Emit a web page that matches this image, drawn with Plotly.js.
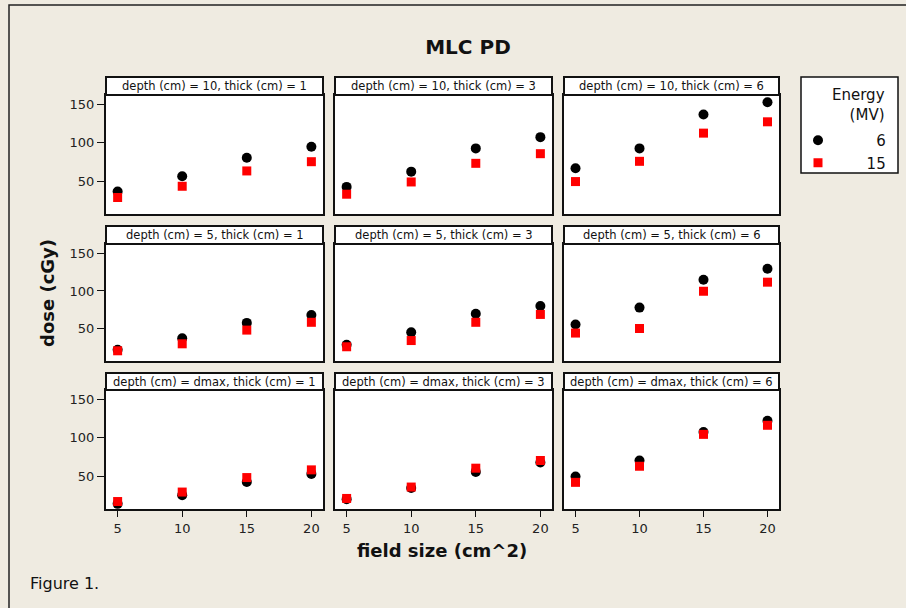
<!DOCTYPE html>
<html>
<head>
<meta charset="utf-8">
<script src="https://cdn.plot.ly/plotly-3.0.1.min.js"></script>
<style>html,body{margin:0;padding:0;background:#EFEBE1;}#chart{width:906px;height:608px;}</style>
</head>
<body>
<div id="chart"></div>
<script>
// ---- data ----
const fieldSize = [5, 10, 15, 20];
const xTicks = [5, 10, 15, 20];
const yTicks = [50, 100, 150];
const depthLabels = ['10', '5', 'dmax'];
const thickLabels = [1, 3, 6];
const energyNames = ['6', '15'];
const legendTitle = 'Energy<br>(MV)';

const dose6_d10_t1 = [36.6, 56.5, 80.6, 94.8];
const dose15_d10_t1 = [28.9, 43.5, 63.4, 75.4];
const dose6_d10_t3 = [42.7, 62.5, 92.7, 107.3];
const dose15_d10_t3 = [33.2, 49.1, 73.3, 85.8];
const dose6_d10_t6 = [66.8, 92.7, 136.6, 152.6];
const dose15_d10_t6 = [49.6, 75.9, 112.5, 127.2];

const dose6_d5_t1 = [22.4, 37.5, 57.8, 68.1];
const dose15_d5_t1 = [21.0, 30.2, 48.3, 58.6];
const dose6_d5_t3 = [28.9, 45.3, 69.8, 80.2];
const dose15_d5_t3 = [26.3, 34.5, 58.6, 69.0];
const dose6_d5_t6 = [55.6, 78.0, 114.7, 129.3];
const dose15_d5_t6 = [44.4, 50.4, 99.6, 111.6];

const dose6_dmax_t1 = [14.2, 25.5, 42.6, 53.1];
const dose15_dmax_t1 = [17.2, 29.5, 48.3, 58.3];
const dose6_dmax_t3 = [20.3, 34.7, 55.7, 67.9];
const dose15_dmax_t3 = [21.2, 36.0, 60.5, 70.5];
const dose6_dmax_t6 = [49.6, 70.5, 107.4, 122.1];
const dose15_dmax_t6 = [42.1, 63.0, 104.4, 116.2];

const panels6 = [
  [dose6_d10_t1, dose6_d10_t3, dose6_d10_t6],
  [dose6_d5_t1, dose6_d5_t3, dose6_d5_t6],
  [dose6_dmax_t1, dose6_dmax_t3, dose6_dmax_t6]
];
const panels15 = [
  [dose15_d10_t1, dose15_d10_t3, dose15_d10_t6],
  [dose15_d5_t1, dose15_d5_t3, dose15_d5_t6],
  [dose15_dmax_t1, dose15_dmax_t3, dose15_dmax_t6]
];

// ---- layout geometry (pixels) ----
const W = 906, H = 608;
const FONT = 'DejaVu Sans';
const colPx = [[106, 323], [335, 552], [564, 779]];
const rowPlotPx = [[95, 214], [244, 361], [390, 509]];
const rowStripPx = [[77, 95], [226, 244], [373, 390]];
const fx = p => p / W;
const fy = p => 1 - p / H;
const NB = '\u00a0';
// right-align legend labels by padding (digit width = 2 nbsp in DejaVu Sans)
const padName = s => NB.repeat(Math.max(0, 10 - 2 * s.length)) + s;

const traces = [];
const layout = {
  width: W, height: H,
  margin: {l: 0, r: 0, t: 0, b: 0},
  paper_bgcolor: '#EFEBE1',
  plot_bgcolor: '#FFFFFF',
  font: {family: FONT, color: '#111'},
  title: {text: '<b>MLC PD</b>', x: fx(468), y: fy(47), xanchor: 'center', yanchor: 'middle',
          font: {family: FONT, size: 20, color: '#111'}},
  showlegend: true,
  legend: {
    x: fx(798), y: fy(124), xanchor: 'left', yanchor: 'top',
    bgcolor: 'rgba(0,0,0,0)', borderwidth: 0,
    font: {family: FONT, size: 15, color: '#111'},
    tracegroupgap: 0
  },
  shapes: [],
  annotations: []
};

for (let r = 0; r < 3; r++) {
  for (let c = 0; c < 3; c++) {
    const k = r * 3 + c + 1;
    const xa = 'xaxis' + (k === 1 ? '' : k);
    const ya = 'yaxis' + (k === 1 ? '' : k);
    const xr = 'x' + (k === 1 ? '' : k);
    const yr = 'y' + (k === 1 ? '' : k);
    layout[xa] = {
      domain: [fx(colPx[c][0]), fx(colPx[c][1])],
      anchor: yr, range: [4.1, 20.9],
      tickvals: xTicks, ticktext: xTicks.map(String),
      showgrid: false, zeroline: false,
      showline: true, linecolor: '#111', linewidth: 2, mirror: true,
      ticks: r === 2 ? 'outside' : '', ticklen: 6, tickcolor: '#111',
      showticklabels: r === 2,
      tickfont: {family: FONT, size: 13, color: '#222'},
      fixedrange: true
    };
    layout[ya] = {
      domain: [fy(rowPlotPx[r][1]), fy(rowPlotPx[r][0])],
      anchor: xr, range: [7.5, 162],
      tickvals: yTicks, ticktext: yTicks.map(String),
      showgrid: false, zeroline: false,
      showline: true, linecolor: '#111', linewidth: 2, mirror: true,
      ticks: c === 0 ? 'outside' : '', ticklen: 7, tickcolor: '#111',
      showticklabels: c === 0,
      tickfont: {family: FONT, size: 13, color: '#222'},
      fixedrange: true
    };
    traces.push({
      type: 'scatter', mode: 'markers', x: fieldSize, y: panels6[r][c],
      xaxis: xr, yaxis: yr, name: padName(energyNames[0]), legendgroup: 'e6', showlegend: k === 1,
      marker: {symbol: 'circle', size: 10, color: '#000000'}
    });
    traces.push({
      type: 'scatter', mode: 'markers', x: fieldSize, y: panels15[r][c],
      xaxis: xr, yaxis: yr, name: padName(energyNames[1]), legendgroup: 'e15', showlegend: k === 1,
      marker: {symbol: 'square', size: 9, color: '#FF0000'}
    });
    // strip
    layout.shapes.push({
      type: 'rect', xref: 'paper', yref: 'paper',
      x0: fx(colPx[c][0]), x1: fx(colPx[c][1]),
      y0: fy(rowStripPx[r][1]), y1: fy(rowStripPx[r][0]),
      fillcolor: '#FFFFFF', line: {color: '#111', width: 2}
    });
    layout.annotations.push({
      xref: 'paper', yref: 'paper',
      x: fx((colPx[c][0] + colPx[c][1]) / 2), y: fy((rowStripPx[r][0] + rowStripPx[r][1]) / 2),
      xanchor: 'center', yanchor: 'middle', showarrow: false,
      text: 'depth (cm) = ' + depthLabels[r] + ', thick (cm) = ' + thickLabels[c],
      font: {family: FONT, size: 11.5, color: '#111'}
    });
  }
}

// figure border
layout.shapes.push({
  type: 'rect', xref: 'paper', yref: 'paper', layer: 'below',
  x0: fx(9), x1: 1.2, y0: -0.2, y1: fy(5),
  line: {color: '#222', width: 1.5}, fillcolor: 'rgba(0,0,0,0)'
});
// legend box
layout.shapes.push({
  type: 'rect', xref: 'paper', yref: 'paper', layer: 'below',
  x0: fx(801), x1: fx(898), y0: fy(173), y1: fy(77),
  line: {color: '#111', width: 1.5}, fillcolor: '#FFFFFF'
});
layout.annotations.push({
  xref: 'paper', yref: 'paper', x: fx(887), y: fy(105), xanchor: 'right', yanchor: 'middle',
  align: 'right', showarrow: false, text: legendTitle, font: {family: FONT, size: 15, color: '#111'}
});

layout.annotations.push({
  xref: 'paper', yref: 'paper', x: fx(442), y: fy(550), xanchor: 'center', yanchor: 'middle',
  showarrow: false, text: '<b>field size (cm^2)</b>', font: {family: FONT, size: 18, color: '#111'}
});
layout.annotations.push({
  xref: 'paper', yref: 'paper', x: fx(48), y: fy(293), xanchor: 'center', yanchor: 'middle',
  showarrow: false, textangle: -90, text: '<b>dose (cGy)</b>', font: {family: FONT, size: 18, color: '#111'}
});
layout.annotations.push({
  xref: 'paper', yref: 'paper', x: fx(28), y: fy(583), xanchor: 'left', yanchor: 'middle',
  showarrow: false, text: 'Figure 1.', font: {family: FONT, size: 16, color: '#111'}
});

Plotly.newPlot('chart', traces, layout, {displayModeBar: false, staticPlot: true});
</script>
</body>
</html>
